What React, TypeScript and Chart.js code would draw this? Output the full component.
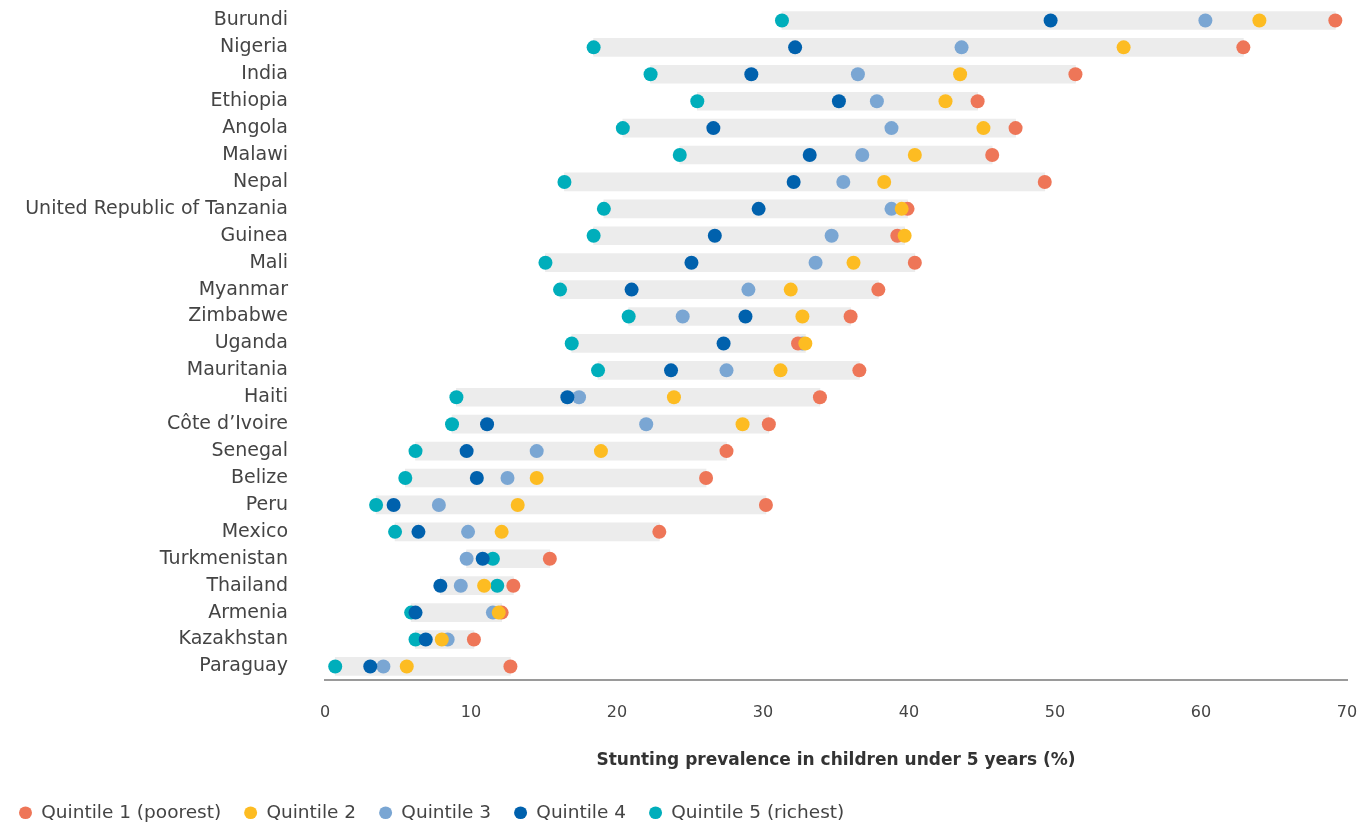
import React, { useEffect, useRef } from "react";
import { Chart, registerables } from "chart.js";

Chart.register(...registerables);

const countries = [
  "Burundi", "Nigeria", "India", "Ethiopia", "Angola", "Malawi", "Nepal",
  "United Republic of Tanzania", "Guinea", "Mali", "Myanmar", "Zimbabwe",
  "Uganda", "Mauritania", "Haiti", "Côte d’Ivoire", "Senegal", "Belize",
  "Peru", "Mexico", "Turkmenistan", "Thailand", "Armenia", "Kazakhstan", "Paraguay",
];

const quintile1 = [69.2, 62.9, 51.4, 44.7, 47.3, 45.7, 49.3, 39.9, 39.2, 40.4, 37.9, 36.0, 32.4, 36.6, 33.9, 30.4, 27.5, 26.1, 30.2, 22.9, 15.4, 12.9, 12.1, 10.2, 12.7];
const quintile2 = [64.0, 54.7, 43.5, 42.5, 45.1, 40.4, 38.3, 39.5, 39.7, 36.2, 31.9, 32.7, 32.9, 31.2, 23.9, 28.6, 18.9, 14.5, 13.2, 12.1, null, 10.9, 11.9, 8.0, 5.6];
const quintile3 = [60.3, 43.6, 36.5, 37.8, 38.8, 36.8, 35.5, 38.8, 34.7, 33.6, 29.0, 24.5, 32.7, 27.5, 17.4, 22.0, 14.5, 12.5, 7.8, 9.8, 9.7, 9.3, 11.5, 8.4, 4.0];
const quintile4 = [49.7, 32.2, 29.2, 35.2, 26.6, 33.2, 32.1, 29.7, 26.7, 25.1, 21.0, 28.8, 27.3, 23.7, 16.6, 11.1, 9.7, 10.4, 4.7, 6.4, 10.8, 7.9, 6.2, 6.9, 3.1];
const quintile5 = [31.3, 18.4, 22.3, 25.5, 20.4, 24.3, 16.4, 19.1, 18.4, 15.1, 16.1, 20.8, 16.9, 18.7, 9.0, 8.7, 6.2, 5.5, 3.5, 4.8, 11.5, 11.8, 5.9, 6.2, 0.7];

const seriesLabels = ["Quintile 1 (poorest)", "Quintile 2", "Quintile 3", "Quintile 4", "Quintile 5 (richest)"];
const xTicks = [0, 10, 20, 30, 40, 50, 60, 70];

const FONT = "'DejaVu Sans', 'Open Sans', sans-serif";

export default function App() {
  const ref = useRef<HTMLCanvasElement | null>(null);

  useEffect(() => {
    if (!ref.current) return;
    const all = [quintile1, quintile2, quintile3, quintile4, quintile5];
    const ranges = countries.map((_, i) => {
      const vals = all.map((s) => s[i]).filter((v) => v !== null) as number[];
      return [Math.min(...vals), Math.max(...vals)];
    });
    const colors = ["#ee7658", "#fdbc22", "#7aa6d3", "#0061ad", "#00aebb"];
    const drawOrder = [1, 0, 4, 2, 3];

    const dotSets = all.map((s, k) => ({
      type: "line" as const,
      label: seriesLabels[k],
      data: s,
      showLine: false,
      pointRadius: 7,
      pointHoverRadius: 7,
      pointBorderWidth: 0,
      pointBackgroundColor: colors[k],
      backgroundColor: colors[k],
      borderColor: colors[k],
      pointStyle: "circle" as const,
      order: drawOrder[k],
    }));

    const chart = new Chart(ref.current, {
      type: "bar",
      data: {
        labels: countries,
        datasets: [
          ...dotSets,
          {
            type: "bar" as const,
            label: "range",
            data: ranges as any,
            backgroundColor: "#ececec",
            borderWidth: 0,
            barThickness: 18,
            order: 10,
          },
        ] as any,
      },
      options: {
        indexAxis: "y",
        animation: false,
        responsive: false,
        maintainAspectRatio: false,
        layout: { padding: { top: 7, right: 15, bottom: -7, left: -4 } },
        plugins: {
          tooltip: { enabled: false },
          legend: {
            position: "bottom",
            align: "start",
            labels: {
              usePointStyle: true,
              pointStyle: "circle",
              pointStyleWidth: 13,
              boxWidth: 13,
              boxHeight: 9,
              padding: 23,
              color: "#444",
              font: { family: FONT, size: 18.5 },
              filter: (item) => item.text !== "range",
              sort: (a, b) => (a.datasetIndex ?? 0) - (b.datasetIndex ?? 0),
            },
          },
        },
        scales: {
          x: {
            type: "linear",
            min: 0,
            max: 70,
            afterBuildTicks: (scale) => {
              scale.ticks = xTicks.map((v) => ({ value: v }));
            },
            afterFit: (scale: any) => {
              scale.paddingLeft = 0;
              scale.paddingRight = 0;
            },
            grid: {
              display: true,
              drawOnChartArea: false,
              drawTicks: true,
              tickLength: 23,
              color: "rgba(0,0,0,0)",
            },
            border: { display: true, color: "#9a9a9a", width: 2 },
            ticks: {
              padding: 0,
              color: "#444",
              font: { family: FONT, size: 16 },
            },
            title: {
              display: true,
              text: "Stunting prevalence in children under 5 years (%)",
              color: "#333",
              font: { family: FONT, size: 17, weight: "bold" },
              padding: { top: 28, bottom: 10 },
            },
          },
          y: {
            type: "category",
            offset: true,
            grid: {
              display: true,
              drawOnChartArea: false,
              drawTicks: true,
              tickLength: 37,
              color: "rgba(0,0,0,0)",
            },
            border: { display: false },
            afterFit: (scale: any) => {
              scale.width = 329;
              scale.paddingTop = 0;
              scale.paddingBottom = 0;
            },
            ticks: {
              padding: 0,
              color: "#444",
              font: { family: FONT, size: 19 },
            },
          },
        },
      },
    });
    return () => chart.destroy();
  }, []);

  return (
    <div style={{ position: "fixed", left: 0, top: 0, width: 1362, height: 825, background: "#fff" }}>
      <canvas ref={ref} width={1362} height={825} style={{ width: 1362, height: 825, display: "block" }} />
    </div>
  );
}
